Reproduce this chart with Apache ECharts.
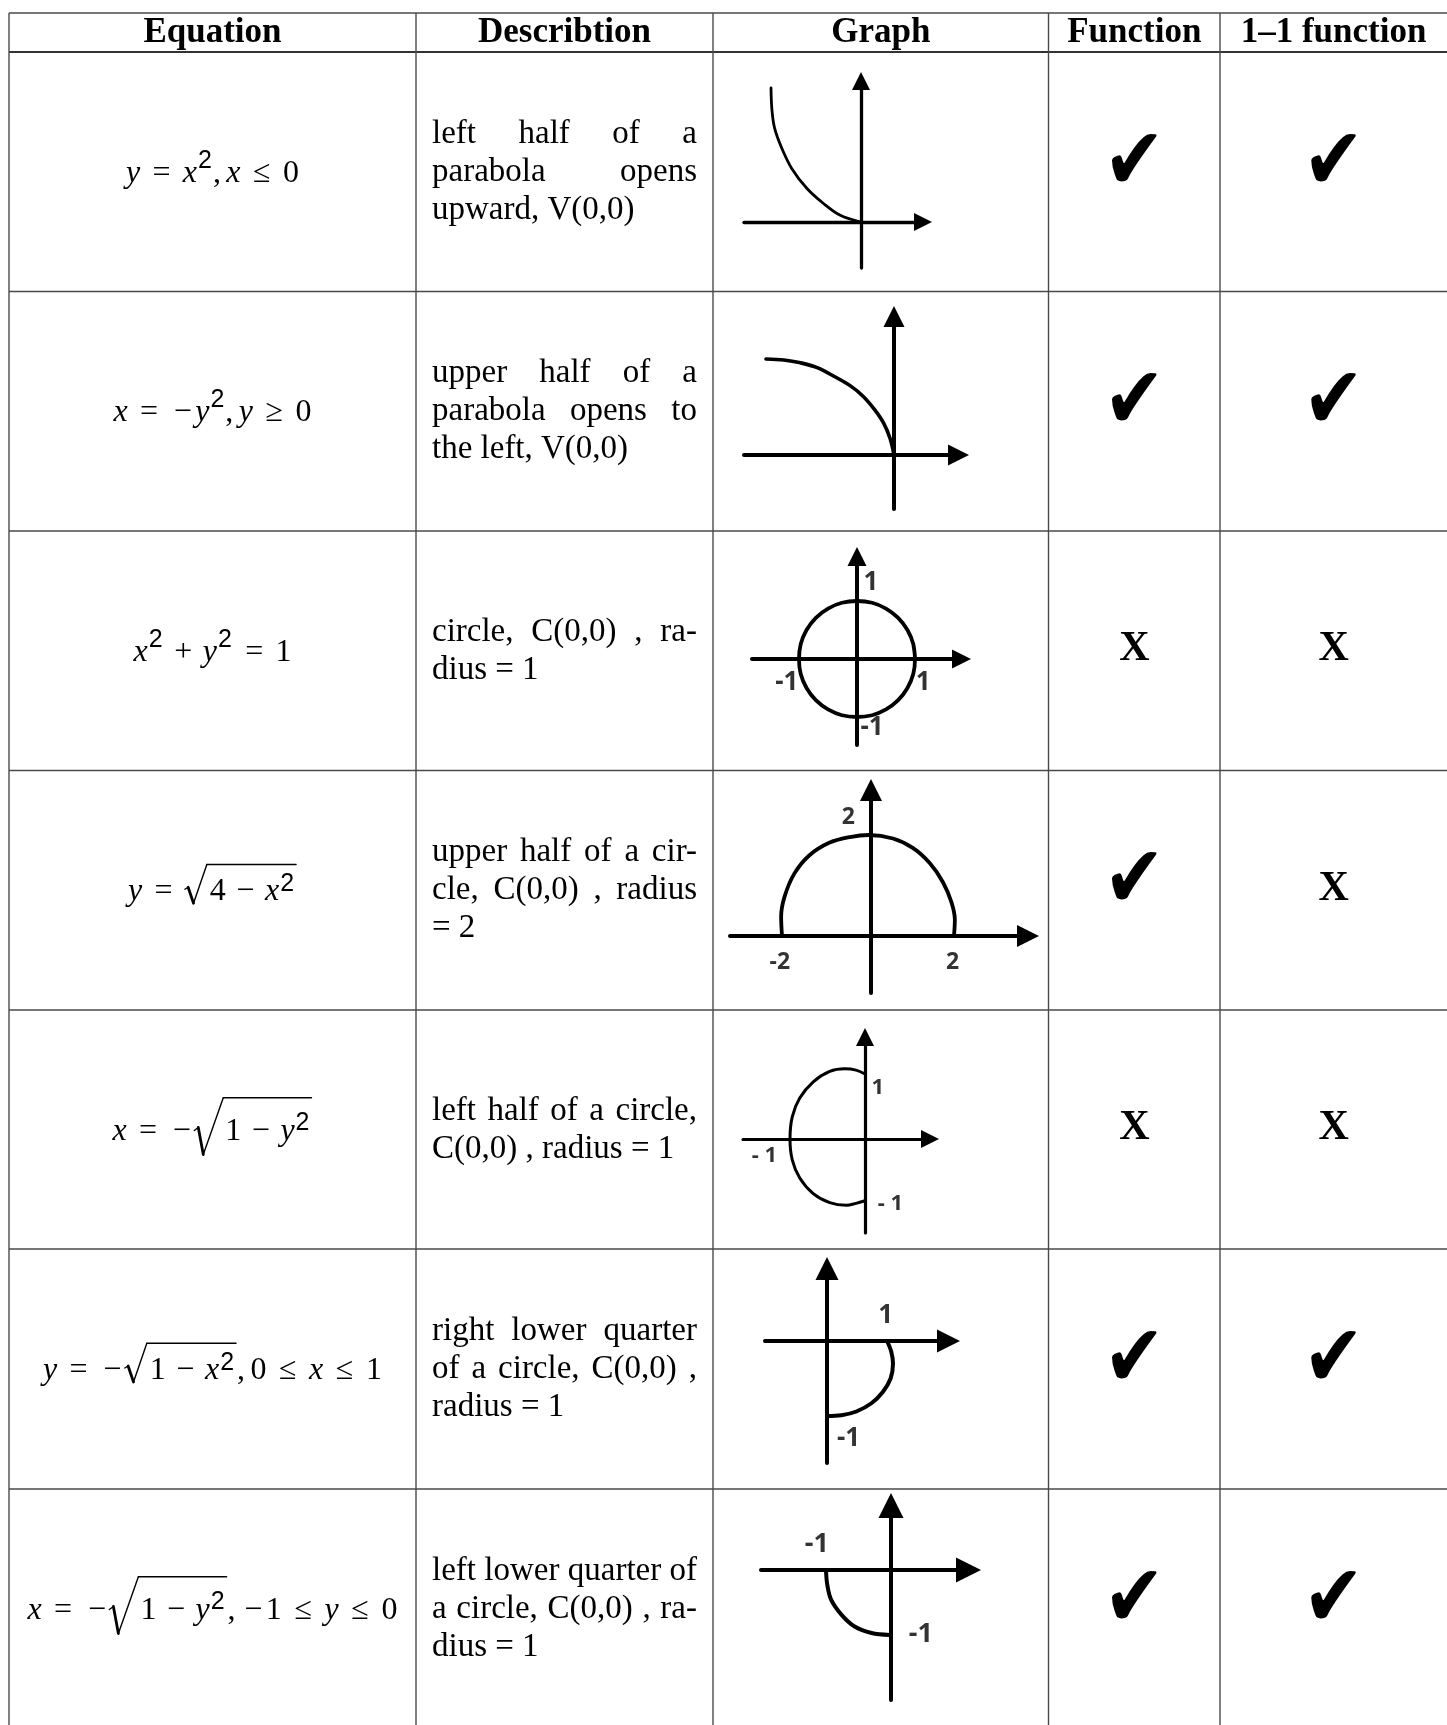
<!DOCTYPE html>
<html>
<head>
<meta charset="utf-8">
<title>Equations and their graphs</title>
<script src="https://cdn.jsdelivr.net/npm/echarts@6/dist/echarts.min.js"></script>
<style>
html, body { margin: 0; padding: 0; background: #fff; }
#chart { width: 1447px; height: 1725px; }
</style>
</head>
<body>
<div id="chart"></div>
<script>
// ---- table content ----
const headers = ['Equation', 'Describtion', 'Graph', 'Function', '1–1 function']

const descriptions = [
  ['left half of a', 'parabola opens', 'upward, V(0,0)'],
  ['upper half of a', 'parabola opens to', 'the left, V(0,0)'],
  ['circle, C(0,0) , ra-', 'dius = 1'],
  ['upper half of a cir-', 'cle, C(0,0) , radius', '= 2'],
  ['left half of a circle,', 'C(0,0) , radius = 1'],
  ['right lower quarter', 'of a circle, C(0,0) ,', 'radius = 1'],
  ['left lower quarter of', 'a circle, C(0,0) , ra-', 'dius = 1']
]

const isFunction = [true, true, false, true, false, true, true]
const isOneToOne = [true, true, false, false, false, true, true]

// v = italic variable, n = upright, u = unary minus, rel / bin = spaced operators,
// p = punctuation, sup = superscript, sqrt = radical [tokens, big]
const equations = [
  [['v', 'y'], ['rel', '='], ['v', 'x'], ['sup', '2'], ['p', ','], ['v', 'x'], ['rel', '≤'], ['n', '0']],
  [['v', 'x'], ['rel', '='], ['u', '−'], ['v', 'y'], ['sup', '2'], ['p', ','], ['v', 'y'], ['rel', '≥'], ['n', '0']],
  [['v', 'x'], ['sup', '2'], ['bin', '+'], ['v', 'y'], ['sup', '2'], ['rel', '='], ['n', '1']],
  [['v', 'y'], ['rel', '='], ['sqrt', [['n', '4'], ['bin', '−'], ['v', 'x'], ['sup', '2']], false]],
  [['v', 'x'], ['rel', '='], ['u', '−'], ['sqrt', [['n', '1'], ['bin', '−'], ['v', 'y'], ['sup', '2']], true]],
  [['v', 'y'], ['rel', '='], ['u', '−'], ['sqrt', [['n', '1'], ['bin', '−'], ['v', 'x'], ['sup', '2']], false],
    ['p', ','], ['n', '0'], ['rel', '≤'], ['v', 'x'], ['rel', '≤'], ['n', '1']],
  [['v', 'x'], ['rel', '='], ['u', '−'], ['sqrt', [['n', '1'], ['bin', '−'], ['v', 'y'], ['sup', '2']], true],
    ['p', ','], ['u', '−'], ['n', '1'], ['rel', '≤'], ['v', 'y'], ['rel', '≤'], ['n', '0']]
]

// ---- sketched curves (graph units) ----
const curveParabolaLeft = [[-1, 1], [-0.99, 0.84], [-0.96, 0.7], [-0.88, 0.55], [-0.77, 0.4],
  [-0.6, 0.25], [-0.42, 0.14], [-0.23, 0.05], [0, 0]]
const curveParabolaUpper = [[-1, 1], [-0.86, 0.99], [-0.73, 0.96], [-0.6, 0.91], [-0.47, 0.82],
  [-0.34, 0.72], [-0.24, 0.61], [-0.15, 0.47], [-0.08, 0.33], [-0.03, 0.17], [0, 0]]
const curveCircle = [[1, 0], [0.97, 0.26], [0.87, 0.5], [0.71, 0.71], [0.5, 0.87], [0.26, 0.97], [0, 1],
  [-0.26, 0.97], [-0.5, 0.87], [-0.71, 0.71], [-0.87, 0.5], [-0.97, 0.26], [-1, 0],
  [-0.97, -0.26], [-0.87, -0.5], [-0.71, -0.71], [-0.5, -0.87], [-0.26, -0.97], [0, -1],
  [0.26, -0.97], [0.5, -0.87], [0.71, -0.71], [0.87, -0.5], [0.97, -0.26], [1, 0], [0.97, 0.26]]
const curveUpperHalf = [[-2.07, 0], [-2.09, 0.38], [-2.01, 0.78], [-1.78, 1.24], [-1.43, 1.6], [-0.96, 1.85],
  [-0.49, 1.96], [-0.05, 2], [0.51, 1.93], [0.98, 1.74], [1.37, 1.44], [1.67, 1.07], [1.87, 0.67],
  [1.95, 0.32], [1.93, 0]]
const curveLeftHalf = [[0, 1], [-0.12, 1.06], [-0.27, 1.08], [-0.47, 1.04], [-0.69, 0.88], [-0.87, 0.63],
  [-0.97, 0.34], [-1, 0], [-0.97, -0.32], [-0.87, -0.6], [-0.69, -0.84], [-0.47, -0.98],
  [-0.25, -1.02], [-0.12, -0.99], [0, -0.95]]
const curveRightLower = [[1, 0], [1.07, -0.14], [1.1, -0.3], [1.06, -0.5], [0.93, -0.68], [0.74, -0.83],
  [0.49, -0.94], [0.24, -0.99], [0, -1]]
const curveLeftLower = [[-1, 0], [-0.98, -0.23], [-0.92, -0.46], [-0.76, -0.69], [-0.56, -0.87],
  [-0.3, -0.97], [-0.02, -1]]

const curves = [curveParabolaLeft, curveParabolaUpper, curveCircle, curveUpperHalf,
  curveLeftHalf, curveRightLower, curveLeftLower]

// tick labels written on the sketches: [x, y, text]
const tickLabels = [
  [],
  [],
  [[0.24, 1.31, '1'], [-1.21, -0.41, '-1'], [1.14, -0.4, '1'], [0.26, -1.19, '-1']],
  [[-0.53, 2.34, '2'], [-2.12, -0.52, '-2'], [1.9, -0.52, '2']],
  [[0.17, 0.79, '1'], [-1.34, -0.25, '- 1'], [0.34, -1.0, '- 1']],
  [[0.98, 0.34, '1'], [0.36, -1.3, '-1']],
  [[-1.14, 0.4, '-1'], [0.46, -0.99, '-1']]
]

// ---- layout ----
const colX = [9, 416, 713, 1048.5, 1220, 1447]
const rowY = [13, 52, 291.5, 531, 770.5, 1010, 1249, 1489, 1728]

// sketch frames in page pixels: origin, unit sizes, axis ends, arrow size, widths
const frames = [
  { ox: 861, oy: 222, ux: 90, uy: 134, xl: 744, xt: 932, yb: 268, yt: 72, arrow: 18, lw: 3.3, cw: 2.8, fs: 24 },
  { ox: 894, oy: 455, ux: 128, uy: 96, xl: 744, xt: 969, yb: 509, yt: 306, arrow: 21, lw: 4, cw: 3.6, fs: 24 },
  { ox: 857, oy: 659, ux: 58, uy: 58, xl: 752, xt: 971, yb: 745, yt: 547, arrow: 19, lw: 4, cw: 3.8, fs: 26 },
  { ox: 871, oy: 936, ux: 43, uy: 50.5, xl: 730, xt: 1039, yb: 993, yt: 779, arrow: 22, lw: 4, cw: 3.8, fs: 23 },
  { ox: 865, oy: 1139, ux: 75, uy: 65, xl: 743, xt: 939, yb: 1233, yt: 1028, arrow: 18, lw: 3.2, cw: 3, fs: 22 },
  { ox: 827, oy: 1341, ux: 60, uy: 75, xl: 765, xt: 960, yb: 1463, yt: 1257, arrow: 23, lw: 4, cw: 4, fs: 26 },
  { ox: 891, oy: 1570, ux: 65, uy: 65, xl: 761, xt: 981, yb: 1700, yt: 1493, arrow: 25, lw: 4, cw: 4, fs: 27 }
]

const SERIF = '"Liberation Serif", "Times New Roman", serif'
const SANS = '"Liberation Sans", Arial, sans-serif'
const LABEL_FONT = '"Noto Sans", "Open Sans", sans-serif'
const LINE = '#4a4a4a'

const EQ_FS = 32
const F_IT = `italic ${EQ_FS}px ${SERIF}`
const F_RM = `${EQ_FS}px ${SERIF}`
const F_SUP = `25px ${SANS}`
const F_HEAD = `bold 35px ${SERIF}`
const F_DESC = `33px ${SERIF}`
const F_CHECK = '80px "DejaVu Sans"'
const F_CROSS = `bold 42px ${SERIF}`

const RAD_SMALL = { lead: 25, t0: [0, -11], t1: [3.3, -13], b: [8.7, 3], top: [22, -35.7] }
const RAD_BIG = { lead: 31, t0: [0, -9], t1: [4, -12], b: [9, 15], top: [29, -41.7] }

const mctx = document.createElement('canvas').getContext('2d')
function tw(str, font) {
  mctx.font = font
  mctx.textAlign = 'left'
  return mctx.measureText(str).width
}
function midOffset(font) {
  mctx.font = font
  mctx.textBaseline = 'middle'
  return mctx.measureText('H').actualBoundingBoxDescent
}

function txt(str, x, baseline, font, align) {
  return {
    type: 'text',
    silent: true,
    style: {
      text: str, x: x, y: baseline - midOffset(font), font: font, fill: '#000',
      textAlign: align || 'left', align: align || 'left',
      textVerticalAlign: 'middle', verticalAlign: 'middle'
    }
  }
}
// a single glyph fitted into a w x h box centred on (cx, cy)
function glyph(str, font, cx, cy, w, h) {
  mctx.font = font
  mctx.textBaseline = 'middle'
  mctx.textAlign = 'center'
  const m = mctx.measureText(str)
  const gw = m.actualBoundingBoxLeft + m.actualBoundingBoxRight
  const gh = m.actualBoundingBoxAscent + m.actualBoundingBoxDescent
  const dx = (m.actualBoundingBoxRight - m.actualBoundingBoxLeft) / 2
  const dy = (m.actualBoundingBoxDescent - m.actualBoundingBoxAscent) / 2
  mctx.textAlign = 'left'
  return {
    type: 'text', silent: true,
    x: cx, y: cy, scaleX: w / gw, scaleY: h / gh,
    style: {
      text: str, x: -dx, y: -dy, font: font, fill: '#000',
      textAlign: 'center', align: 'center', textVerticalAlign: 'middle', verticalAlign: 'middle'
    }
  }
}
function seg(x1, y1, x2, y2, w, color) {
  return {
    type: 'line', silent: true,
    shape: { x1: x1, y1: y1, x2: x2, y2: y2 },
    style: { stroke: color || '#000', lineWidth: w, lineCap: 'round' }
  }
}

// lay an equation out left to right, returns the end x
function place(tokens, x0, B, inRoot, out) {
  let x = x0
  tokens.forEach(tk => {
    const k = tk[0]
    const s = tk[1]
    if (k === 'v') {
      out.push(txt(s, x, B, F_IT))
      x += tw(s, F_IT)
    } else if (k === 'n') {
      out.push(txt(s, x, B, F_RM))
      x += tw(s, F_RM)
    } else if (k === 'u') {
      const w = 0.778 * EQ_FS
      out.push(txt(s, x + w / 2, B, F_RM, 'center'))
      x += w
    } else if (k === 'rel' || k === 'bin') {
      const sp = (k === 'rel' ? 0.278 : 0.222) * EQ_FS
      const w = 0.778 * EQ_FS
      out.push(txt(s, x + sp + w / 2, B, F_RM, 'center'))
      x += w + 2 * sp
    } else if (k === 'p') {
      out.push(txt(s, x, B, F_RM))
      x += tw(s, F_RM) + 0.167 * EQ_FS
    } else if (k === 'sup') {
      x += 1
      out.push(txt(s, x, B - (inRoot ? 9.5 : 14), F_SUP))
      x += tw(s, F_SUP) + 1
    } else if (k === 'sqrt') {
      const g = tk[2] ? RAD_BIG : RAD_SMALL
      const start = x
      const end = place(s, x + g.lead, B, true, out)
      out.push(seg(start + g.t0[0], B + g.t0[1], start + g.t1[0], B + g.t1[1], 1.4))
      out.push(seg(start + g.t1[0], B + g.t1[1], start + g.b[0], B + g.b[1], 2.8))
      out.push(seg(start + g.b[0], B + g.b[1], start + g.top[0], B + g.top[1], 1.4))
      out.push(seg(start + g.top[0], B + g.top[1], end + 1, B + g.top[1], 1.4))
      x = end + 2
    }
  })
  return x
}

const els = []

// table rules
els.push(seg(colX[0], rowY[0], colX[5], rowY[0], 1.4, LINE))
els.push(seg(colX[0], rowY[1], colX[5], rowY[1], 2.2, '#333'))
for (let r = 2; r < rowY.length - 1; r++) {
  els.push(seg(colX[0], rowY[r], colX[5], rowY[r], 1.4, LINE))
}
for (let c = 0; c < colX.length - 1; c++) {
  els.push(seg(colX[c], rowY[0], colX[c], 1725, 1.4, LINE))
}
els.forEach(e => { e.style.lineCap = 'butt' })

// headers
headers.forEach((h, c) => {
  els.push(txt(h, (colX[c] + colX[c + 1]) / 2, 42, F_HEAD, 'center'))
})

const DESC_L = 432
const DESC_R = 697
const LEAD = 38

for (let r = 0; r < 7; r++) {
  const cy = (rowY[r + 1] + rowY[r + 2]) / 2

  // equation, centred in its column
  const B = cy + 10
  const eqW = place(equations[r], 0, B, false, [])
  const eqX = (colX[0] + colX[1]) / 2 - eqW / 2
  place(equations[r], eqX, B, false, els)

  // justified description
  const lines = descriptions[r]
  lines.forEach((line, i) => {
    const base = cy + 9 + (i - (lines.length - 1) / 2) * LEAD
    const words = line.split(' ')
    if (i === lines.length - 1 || words.length === 1) {
      els.push(txt(line, DESC_L, base, F_DESC))
      return
    }
    const widths = words.map(w => tw(w, F_DESC))
    const total = widths.reduce((a, b) => a + b, 0)
    const gap = (DESC_R - DESC_L - total) / (words.length - 1)
    let x = DESC_L
    words.forEach((w, j) => {
      els.push(txt(w, x, base, F_DESC))
      x += widths[j] + gap
    })
  })

  // function / one-to-one marks
  ;[isFunction[r], isOneToOne[r]].forEach((ok, j) => {
    const cx = (colX[3 + j] + colX[4 + j]) / 2
    if (ok) {
      els.push(glyph('✔', F_CHECK, cx, cy - 14, 45, 49))
    } else {
      els.push(glyph('X', F_CROSS, cx, cy - 4.5, 30, 28))
    }
  })
}

// sketches: one small grid per row
const grids = []
const xAxes = []
const yAxes = []
const series = []

frames.forEach((f, i) => {
  const h = f.arrow / 2
  grids.push({
    left: f.xl, top: f.yt + h, width: f.xt - h - f.xl, height: f.yb - f.yt - h,
    containLabel: false, outerBoundsMode: 'none', show: false
  })
  const axisLine = {
    show: true, onZero: true,
    symbol: ['none', 'triangle'], symbolSize: [f.arrow, f.arrow],
    lineStyle: { color: '#000', width: f.lw, cap: 'round' }
  }
  xAxes.push({
    gridIndex: i, type: 'value',
    min: (f.xl - f.ox) / f.ux, max: (f.xt - h - f.ox) / f.ux,
    axisLine: axisLine, axisTick: { show: false }, axisLabel: { show: false }, splitLine: { show: false }
  })
  yAxes.push({
    gridIndex: i, type: 'value',
    min: (f.oy - f.yb) / f.uy, max: (f.oy - f.yt - h) / f.uy,
    axisLine: axisLine, axisTick: { show: false }, axisLabel: { show: false }, splitLine: { show: false }
  })
  series.push({
    type: 'line', xAxisIndex: i, yAxisIndex: i,
    data: curves[i], smooth: 0.35, symbol: 'none', showSymbol: false,
    lineStyle: { color: '#000', width: f.cw, cap: 'round', join: 'round' },
    clip: false, silent: true, z: 3
  })
  if (tickLabels[i].length) {
    series.push({
      type: 'scatter', xAxisIndex: i, yAxisIndex: i,
      data: tickLabels[i].map(t => ({ value: [t[0], t[1]], name: t[2] })),
      symbolSize: 1, itemStyle: { color: 'rgba(0,0,0,0)' },
      label: {
        show: true, position: 'inside', formatter: '{b}',
        color: '#000', fontFamily: LABEL_FONT, fontSize: f.fs, fontWeight: 'bold'
      },
      clip: false, silent: true, z: 4
    })
  }
})

const chart = echarts.init(document.getElementById('chart'), null, { renderer: 'canvas' })
chart.setOption({
  animation: false,
  backgroundColor: '#fff',
  tooltip: { show: false },
  grid: grids,
  xAxis: xAxes,
  yAxis: yAxes,
  series: series,
  graphic: { elements: els }
})
window.addEventListener('resize', chart.resize)
</script>
</body>
</html>
